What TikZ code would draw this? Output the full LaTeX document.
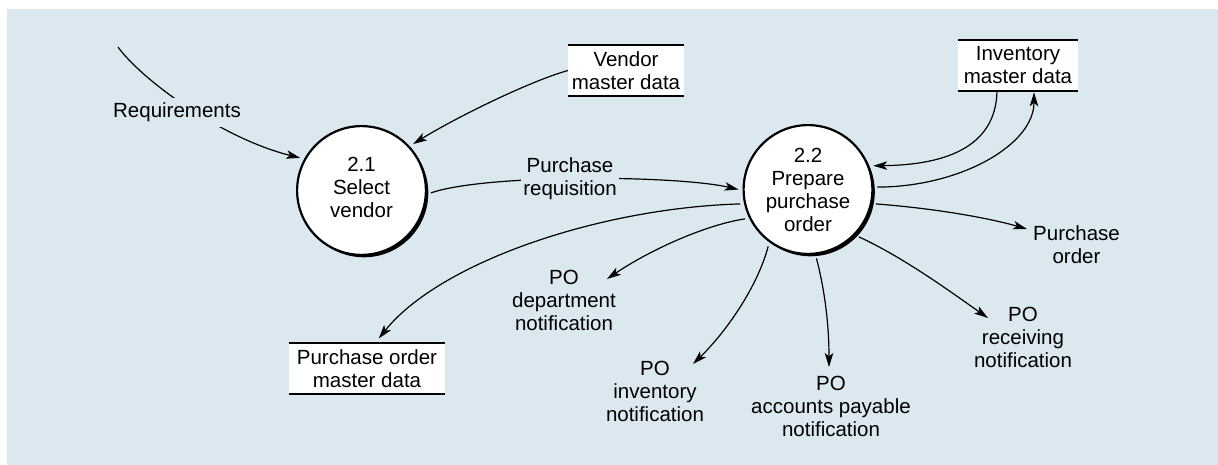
\documentclass[tikz,border=0pt]{standalone}
\usepackage{fontspec}
\setmainfont{Liberation Sans}
\usetikzlibrary{arrows.meta,shadows}
\definecolor{panel}{RGB}{219,232,240}
\begin{document}
\begin{tikzpicture}[x=1pt,y=-1pt,
  every node/.style={font=\fontsize{20.5}{23}\selectfont, align=center},
  process/.style={circle, draw, line width=2.2pt, fill=white, minimum size=128.8pt,
    inner sep=0pt, outer sep=5pt,
    drop shadow={shadow xshift=2.4pt, shadow yshift=-2.4pt, fill=black, opacity=1}},
  store/.style={fill=white, minimum height=50.6pt, inner sep=0pt, outer sep=0pt},
  storeline/.style={line width=2.4pt},
  flowlabel/.style={inner sep=0pt},
  cutlabel/.style={fill=panel, inner xsep=2.5pt, inner ysep=5pt},
  flow/.style={line width=1.2pt, -{Stealth[length=14pt,width=8.5pt,inset=3.5pt]}},
]
% panel
\useasboundingbox (0,0) rectangle (1218,465);
\fill[panel] (7,9) rectangle (1218,465);

% data stores
\node[store, minimum width=116pt] (vend) at (626,70.5) {Vendor\\master data};
\node[store, minimum width=120pt] (inv) at (1018,65.5) {Inventory\\master data};
\node[store, minimum width=156pt] (pos) at (367,368.5) {Purchase order\\master data};
\foreach \s in {vend,inv,pos}
  \draw[storeline] (\s.north west) -- (\s.north east) (\s.south west) -- (\s.south east);

% processes
\node[process] (sel) at (361.5,190.5) {2.1\\Select\\vendor\rule[-7pt]{0pt}{0pt}};
\node[process] (prep) at (808,189.5) {2.2\\Prepare\\purchase\\order};

% free ends of the flows
\coordinate (reqsrc) at (118,47);
\coordinate (deptin) at (607,279);
\coordinate (invnin) at (693,364);
\coordinate (apin) at (829,367);
\coordinate (recvin) at (988,318);
\coordinate (pordin) at (1027,229);

% flows
\draw[flow] (reqsrc) .. controls (140,78) and (220,138) .. (sel.152);
\draw[flow] (vend.west) .. controls (530,81) and (455,118) .. (sel.42);
\draw[flow] (sel.358) .. controls (485,174) and (675,175) .. (prep.180);
\draw[flow] ([xshift=-21pt]inv.south) .. controls (996,150) and (940,165) .. (prep.20);
\draw[flow, shorten >=1.5pt] (prep.2) .. controls (960,187) and (1034,145) .. ([xshift=16pt]inv.south);
\draw[flow, shorten >=6pt] (prep.192) .. controls (600,208) and (440,262) .. ([xshift=8pt]pos.north);
\draw[flow] (prep.205) .. controls (705,225) and (650,250) .. (deptin);
\draw[flow] (prep.235) .. controls (758,285) and (728,330) .. (invnin);
\draw[flow] (prep.277) .. controls (826,295) and (829,330) .. (apin);
\draw[flow] (prep.317) .. controls (905,258) and (955,295) .. (recvin);
\draw[flow] (prep.348) .. controls (930,208) and (985,217) .. (pordin);

% flow labels
\node[cutlabel, anchor=base] (req) at (177,117.7) {Requirements};
\node[cutlabel] (preq) at (570,179.1) {Purchase\\requisition};
\node[flowlabel] (pord) at (1076.5,244.4) {Purchase\\order};
\node[flowlabel] (dept) at (564,300) {PO\\department\\notification};
\node[flowlabel] (invn) at (655,391) {PO\\inventory\\notification};
\node[flowlabel] (apn) at (831,406.5) {PO\\accounts payable\\notification};
\node[flowlabel] (recv) at (1023,337.7) {PO\\receiving\\notification};
\end{tikzpicture}
\end{document}
